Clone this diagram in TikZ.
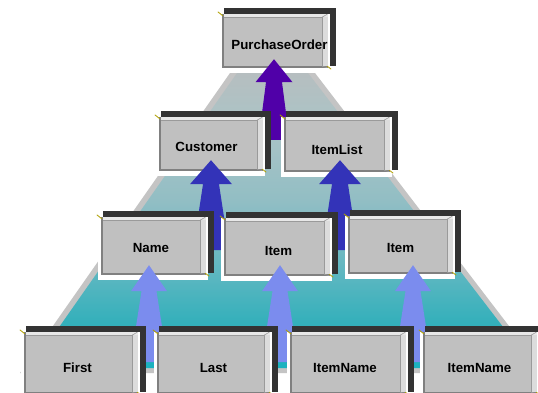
\documentclass[tikz,border=0pt]{standalone}
\usepackage{fontspec}
\setmainfont{Liberation Sans}
\usetikzlibrary{calc}
\definecolor{shc}{HTML}{333333}
\definecolor{facec}{HTML}{C0C0C0}
\definecolor{edgec}{HTML}{808080}
\definecolor{hilc}{HTML}{E8E8E8}
\definecolor{rstrip}{HTML}{DCDCDC}
\definecolor{linec}{HTML}{9A9A9A}
\definecolor{handc}{HTML}{B0A000}
\definecolor{rimc}{HTML}{C4C4C4}
\definecolor{purp}{HTML}{5000A8}
\definecolor{bluec}{HTML}{3333B8}
\definecolor{lblue}{HTML}{7B8CEE}
\definecolor{g0}{HTML}{1AB2BF}
\definecolor{g1}{HTML}{35B0BB}
\definecolor{g2}{HTML}{58B6C0}
\definecolor{g3}{HTML}{78BAC2}
\definecolor{g4}{HTML}{92BEC4}
\definecolor{g5}{HTML}{A4C2C6}
\definecolor{g6}{HTML}{AEC2C4}
\definecolor{g7}{HTML}{B6BEC0}
\pgfdeclareverticalshading{pyr}{100bp}{color(0bp)=(g0); color(25bp)=(g0); color(33bp)=(g1); color(40bp)=(g2); color(47bp)=(g3); color(53.5bp)=(g4); color(62bp)=(g5); color(69bp)=(g6); color(75bp)=(g7); color(100bp)=(g7)}
\tikzset{
  face/.style={rectangle, fill=facec, draw=none, inner sep=0pt},
  lbl/.style={font=\bfseries\fontsize{13.3}{15}\selectfont, anchor=base, inner sep=0pt, text=black},
}
% #1 name, #2 cx, #3 cy, #4 width, #5 height
\newcommand\mybtn[5]{%
  \fill[shc] ({#2-#4/2+2},{#3-#5/2-6}) rectangle ({#2+#4/2+8},{#3+#5/2-2});
  \fill[white] ({#2-#4/2-3},{#3-#5/2}) rectangle ({#2+#4/2+2},{#3+#5/2+5});
  \node[face, minimum width=#4pt, minimum height=#5pt] (#1) at (#2,#3) {};
  \fill[edgec] (#1.north west) rectangle ([shift={(2,0)}]#1.south west);
  \fill[edgec] ([shift={(0,-2)}]#1.south west) rectangle (#1.south east);
  \fill[hilc] ([shift={(2,0)}]#1.north west) rectangle ([shift={(0,3)}]#1.north east);
  \fill[rstrip] ([shift={(-6,3)}]#1.north east) rectangle ([shift={(0,-2)}]#1.south east);
  \draw[linec, line width=0.7pt] ([shift={(2,3.3)}]#1.north west) -- ([shift={(-6,3.3)}]#1.north east)
       -- ([shift={(-6,-2)}]#1.south east);
  \draw[linec, line width=0.6pt] ([shift={(-6,3.3)}]#1.north east) -- ([shift={(-1,0.5)}]#1.north east);
  \draw[linec, line width=0.6pt] ([shift={(-6,-2)}]#1.south east) -- ([shift={(-1,-0.5)}]#1.south east);
  \draw[handc, line width=0.8pt] ([shift={(-4,-2)}]#1.north west) -- ([shift={(1,2)}]#1.north west);
  \draw[handc, line width=0.8pt] ([shift={(-1,-2)}]#1.south east) -- ([shift={(3,1)}]#1.south east);
}
% #1 tail, #2 tip, #3 colour, #4 head half width, #5 head length, #6 shaft half top, #7 shaft half bottom
\newcommand\fatarrow[7]{%
  \fill[#3] (#2) -- ($(#2)+(#4,#5)$) -- ($(#2)+(#6,#5)$) -- ($(#1)+(#7,0)$)
    -- ($(#1)+(-#7,0)$) -- ($(#2)+(-#6,#5)$) -- ($(#2)+(-#4,#5)$) -- cycle;
}
\begin{document}
\begin{tikzpicture}[x=1pt,y=-1pt]
\useasboundingbox (0,0) rectangle (538,393);
\fill[white] (0,0) rectangle (538,393);
% pyramid
\fill[rimc] (230,73) -- (315,73) -- (545,373) -- (20,373) -- cycle;
\shade[shading=pyr] (237,73) -- (308,73) -- (534.6,368) -- (30.5,368) -- cycle;
% top
\mybtn{po}{275}{41}{106}{54}
\node[lbl] (tpo) at (279.5,50) {PurchaseOrder};
\coordinate (t1) at ($(po.south)+(-1,-9)$);
\coordinate (b1) at (t1 |- 0,140);
\fatarrow{b1}{t1}{purp}{18.5}{23}{8}{15.5}
% level 2
\mybtn{cust}{211}{144}{104}{54}
\node[lbl] (tcust) at (206.5,151.5) {Customer};
\mybtn{ilist}{337}{144.5}{106}{55}
\node[lbl] (tilist) at (337,154) {ItemList};
\coordinate (t2) at ($(cust.south)+(0,-11)$);
\coordinate (b2) at (t2 |- 0,250);
\fatarrow{b2}{t2}{bluec}{21}{24}{8}{18}
\coordinate (t3) at ($(ilist.south)+(3,-12)$);
\coordinate (b3) at (t3 |- 0,250);
\fatarrow{b3}{t3}{bluec}{21}{24}{8}{18}
% level 3
\mybtn{name}{153.5}{246}{105}{58}
\node[lbl] (tname) at (151,252) {Name};
\mybtn{itema}{277}{247}{106}{58}
\node[lbl] (titema) at (278.5,255) {Item};
\mybtn{itemb}{400.5}{245}{105}{58}
\node[lbl] (titemb) at (400.5,252) {Item};
\coordinate (t4) at ($(name.south)+(-4.5,-10)$);
\coordinate (b4) at (t4 |- 0,362);
\fatarrow{b4}{t4}{lblue}{18}{26}{7.5}{18.5}
\coordinate (t5) at ($(itema.south)+(3,-11)$);
\coordinate (b5) at (t5 |- 0,362);
\fatarrow{b5}{t5}{lblue}{18}{26}{7.5}{18.5}
\coordinate (t6) at ($(itemb.south)+(12.5,-9)$);
\coordinate (b6) at (t6 |- 0,362);
\fatarrow{b6}{t6}{lblue}{18}{26}{7.5}{18.5}
% level 4
\mybtn{first}{81}{363}{114}{62}
\node[lbl] (tfirst) at (77.5,372) {First};
\mybtn{last}{213.5}{363}{113}{62}
\node[lbl] (tlast) at (213.5,372) {Last};
\mybtn{inamea}{348}{363}{116}{62}
\node[lbl] (tinamea) at (345,372) {ItemName};
\mybtn{inameb}{480}{363}{114}{62}
\node[lbl] (tinameb) at (479.5,372) {ItemName};
\end{tikzpicture}
\end{document}
